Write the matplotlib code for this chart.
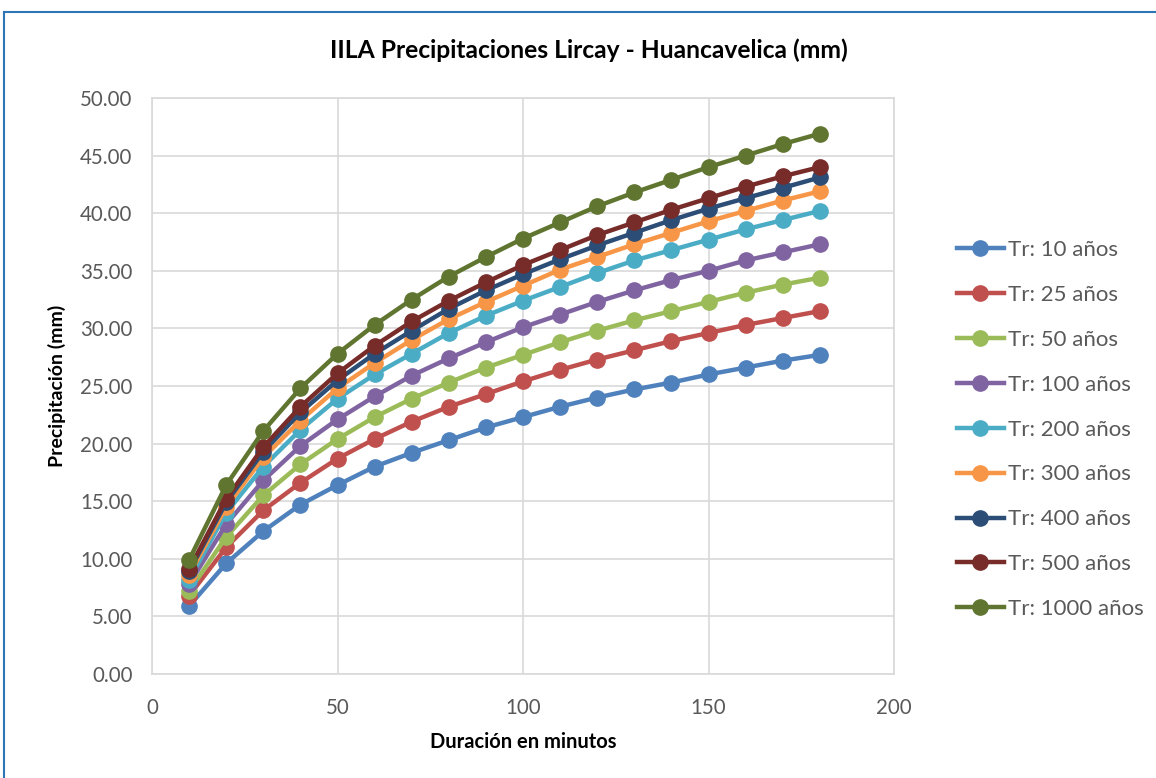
import matplotlib
matplotlib.use("Agg")
import matplotlib.pyplot as plt
from matplotlib.lines import Line2D

plt.rcParams["font.family"] = ["Lato", "DejaVu Sans"]

# duration (min) and precipitation (mm) per return period
duracion = [10, 20, 30, 40, 50, 60, 70, 80, 90, 100, 110, 120, 130, 140, 150, 160, 170, 180]

tr_10 = [5.9, 9.6, 12.4, 14.7, 16.4, 18.0, 19.2, 20.3, 21.4, 22.3, 23.2, 24.0, 24.7, 25.3, 26.0, 26.6, 27.2, 27.7]
tr_25 = [6.8, 11.0, 14.2, 16.6, 18.7, 20.4, 21.9, 23.2, 24.3, 25.4, 26.4, 27.3, 28.1, 28.9, 29.6, 30.3, 30.9, 31.5]
tr_50 = [7.2, 11.9, 15.5, 18.2, 20.4, 22.3, 23.9, 25.3, 26.6, 27.7, 28.8, 29.8, 30.7, 31.5, 32.3, 33.1, 33.8, 34.4]
tr_100 = [7.8, 13.0, 16.8, 19.8, 22.1, 24.1, 25.9, 27.4, 28.8, 30.1, 31.2, 32.3, 33.3, 34.2, 35.0, 35.9, 36.6, 37.3]
tr_200 = [8.2, 14.0, 18.0, 21.2, 23.9, 26.0, 27.8, 29.6, 31.1, 32.4, 33.6, 34.8, 35.9, 36.8, 37.7, 38.6, 39.4, 40.2]
tr_300 = [8.6, 14.5, 18.8, 22.0, 24.8, 27.0, 29.0, 30.8, 32.3, 33.7, 35.1, 36.2, 37.3, 38.3, 39.3, 40.2, 41.1, 41.9]
tr_400 = [8.9, 14.9, 19.3, 22.7, 25.5, 27.8, 29.8, 31.7, 33.3, 34.7, 36.0, 37.2, 38.3, 39.4, 40.4, 41.3, 42.2, 43.1]
tr_500 = [9.1, 15.2, 19.7, 23.2, 26.1, 28.5, 30.6, 32.4, 34.0, 35.5, 36.8, 38.1, 39.2, 40.3, 41.3, 42.3, 43.2, 44.0]
tr_1000 = [9.9, 16.4, 21.1, 24.8, 27.8, 30.3, 32.5, 34.5, 36.2, 37.8, 39.2, 40.6, 41.8, 42.9, 44.0, 45.0, 46.0, 46.9]

series = [
    ("Tr: 10 años", tr_10, "#4F81BD"),
    ("Tr: 25 años", tr_25, "#C0504D"),
    ("Tr: 50 años", tr_50, "#9BBB59"),
    ("Tr: 100 años", tr_100, "#8064A2"),
    ("Tr: 200 años", tr_200, "#4BACC6"),
    ("Tr: 300 años", tr_300, "#F79646"),
    ("Tr: 400 años", tr_400, "#2C4D75"),
    ("Tr: 500 años", tr_500, "#772C2A"),
    ("Tr: 1000 años", tr_1000, "#5F7530"),
]

fig = plt.figure(figsize=(11.56, 7.78), dpi=100)
ax = fig.add_axes([152 / 1156, 1 - 674 / 778, 742 / 1156, 576 / 778])

for label, vals, color in series:
    ax.plot(duracion, vals, color=color, linewidth=3.2, marker="o",
            markersize=11, label=label, zorder=3)

ax.set_xlim(0, 200)
ax.set_ylim(0, 50)
ax.set_xticks([0, 50, 100, 150, 200])
ax.set_yticks(range(0, 51, 5))
ax.set_yticklabels([f"{v:.2f}" for v in range(0, 51, 5)])
ax.grid(True, color="#D9D9D9", linewidth=1.2, zorder=0)
for s in ax.spines.values():
    s.set_color("#D9D9D9")
    s.set_linewidth(1.2)
ax.tick_params(length=0, labelsize=14.8, colors="#595959")
ax.tick_params(axis="y", pad=14)
ax.tick_params(axis="x", pad=17)

ax.set_xlabel("Duración en minutos", fontsize=14.5, fontweight="bold", labelpad=10)
ax.set_ylabel("Precipitación (mm)", fontsize=14, fontweight="bold", labelpad=10)
fig.text(0.509, 1 - 50 / 778, "IILA Precipitaciones Lircay - Huancavelica (mm)",
         ha="center", va="center", fontsize=17.7, fontweight="bold")

leg = fig.legend(loc="upper left", bbox_to_anchor=(937 / 1156, 1 - 220 / 778),
                 frameon=False, fontsize=16, labelspacing=1.12, handlelength=2.1,
                 handletextpad=0.2)
for t in leg.get_texts():
    t.set_color("#595959")

# chart frame (selected-chart border)
fig.add_artist(Line2D([4 / 1156, 1], [1 - 12 / 778, 1 - 12 / 778], color="#2E75B6", linewidth=1.5))
fig.add_artist(Line2D([4 / 1156, 4 / 1156], [0, 1 - 12 / 778], color="#2E75B6", linewidth=1.5))

fig.savefig("out.png", dpi=100)
